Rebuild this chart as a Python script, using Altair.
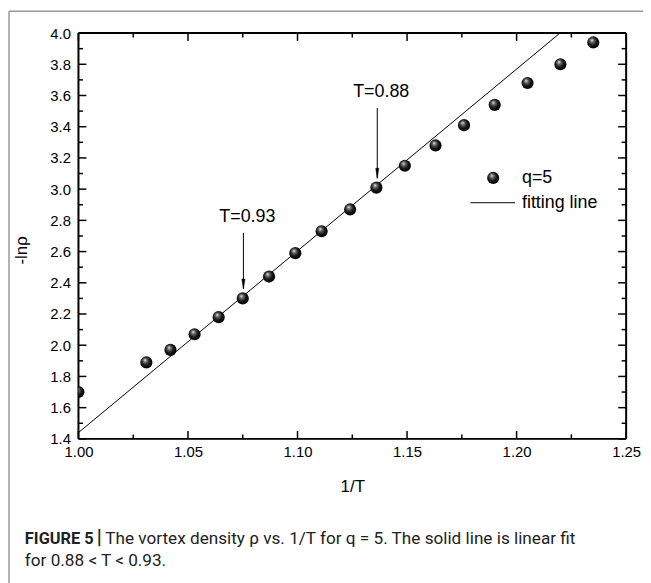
import altair as alt
import pandas as pd

# ---- data ----
inv_T = [1.000, 1.031, 1.042, 1.053, 1.064, 1.075, 1.087, 1.099, 1.111,
         1.124, 1.136, 1.149, 1.163, 1.176, 1.190, 1.205, 1.220, 1.235]
neg_ln_rho = [1.70, 1.89, 1.97, 2.07, 2.18, 2.30, 2.44, 2.59, 2.73,
              2.87, 3.01, 3.15, 3.28, 3.41, 3.54, 3.68, 3.80, 3.94]

fit_x = [1.00, 1.2198]
fit_y = [1.44, 4.00]

ann_x = [1.0753, 1.1364]
ann_label = ["T=0.93", "T=0.88"]
ann_text_y = [2.82, 3.62]
ann_arrow_top = [2.72, 3.52]
ann_arrow_tip = [2.36, 3.07]

x_major = [1.00, 1.05, 1.10, 1.15, 1.20, 1.25]
x_minor = [1.025, 1.075, 1.125, 1.175, 1.225]
y_major = [1.4, 1.6, 1.8, 2.0, 2.2, 2.4, 2.6, 2.8, 3.0, 3.2, 3.4, 3.6, 3.8, 4.0]
y_minor = [1.5, 1.7, 1.9, 2.1, 2.3, 2.5, 2.7, 2.9, 3.1, 3.3, 3.5, 3.7, 3.9]

legend_labels = ["q=5", "fitting line"]
caption_bold = "FIGURE 5"
caption_bar = "|"
caption_line1 = "The vortex density ρ vs. 1/T for q = 5. The solid line is linear fit"
caption_line2 = "for 0.88 < T < 0.93."

W, H = 552, 409
PL, PT = 71, 23
FONT = "Liberation Sans, Arial, sans-serif"

xs = alt.Scale(domain=[1.0, 1.25], nice=False, zero=False)
ys = alt.Scale(domain=[1.4, 4.0], nice=False, zero=False)

AX = alt.Axis(values=x_major, format=".2f", title="1/T", grid=False,
              ticks=False, domain=False, labelPadding=6, labelOverlap=False,
              labelFlush=False,
              labelFontSize=15, labelFont=FONT, labelColor="#000",
              titleFontSize=17, titleFont=FONT, titleFontWeight="normal",
              titleColor="#000", titlePadding=19)
AY = alt.Axis(values=y_major, format=".1f", title=None, grid=False,
              ticks=False, domain=False, labelPadding=8, labelOverlap=False,
              labelFlush=False,
              labelFontSize=15, labelFont=FONT, labelColor="#000")


def X(field):
    return alt.X(field, scale=xs, axis=AX)


def Y(field):
    return alt.Y(field, scale=ys, axis=AY)


pts = pd.DataFrame({"x": inv_T, "y": neg_ln_rho})
fit = pd.DataFrame({"x": fit_x, "y": fit_y})
ann = pd.DataFrame({"x": ann_x, "label": ann_label, "ty": ann_text_y,
                    "top": ann_arrow_top, "tip": ann_arrow_tip})

xmaj = pd.DataFrame({"v": x_major})
xmin = pd.DataFrame({"v": x_minor})
ymaj = pd.DataFrame({"v": y_major})
ymin = pd.DataFrame({"v": y_minor})

one = pd.DataFrame({"a": [0]})

sphere = alt.RadialGradient(
    gradient="radial",
    x1=0.38, y1=0.3, r1=0.0,
    x2=0.45, y2=0.45, r2=0.6,
    stops=[alt.GradientStop(offset=0.0, color="#f4f4f4"),
           alt.GradientStop(offset=0.25, color="#6a6a6a"),
           alt.GradientStop(offset=0.6, color="#151515"),
           alt.GradientStop(offset=1.0, color="#000000")],
)

points = alt.Chart(pts).mark_circle(fill=sphere, opacity=1, size=150, clip=True).encode(
    x=X("x:Q"), y=Y("y:Q"))

fit_line = alt.Chart(fit).mark_line(color="#000", strokeWidth=1, clip=True).encode(
    x=X("x:Q"), y=Y("y:Q"))

# plot box
box_style = dict(color="#000", strokeWidth=2)
box = [
    alt.Chart(one).mark_rule(**box_style).encode(x=alt.value(0), x2=alt.value(W), y=alt.value(0)),
    alt.Chart(one).mark_rule(**box_style).encode(x=alt.value(0), x2=alt.value(W), y=alt.value(H)),
    alt.Chart(one).mark_rule(**box_style).encode(x=alt.value(0), y=alt.value(0), y2=alt.value(H)),
    alt.Chart(one).mark_rule(**box_style).encode(x=alt.value(W), y=alt.value(0), y2=alt.value(H)),
]

# inward ticks
MJ, MN = 8, 4.5
tick_style = dict(color="#000", strokeWidth=1.5)
ticks = [
    alt.Chart(xmaj).mark_rule(**tick_style).encode(x=X("v:Q"), y=alt.value(H), y2=alt.value(H - MJ)),
    alt.Chart(xmin).mark_rule(**tick_style).encode(x=X("v:Q"), y=alt.value(H), y2=alt.value(H - MN)),
    alt.Chart(xmaj).mark_rule(**tick_style).encode(x=X("v:Q"), y=alt.value(0), y2=alt.value(MJ)),
    alt.Chart(xmin).mark_rule(**tick_style).encode(x=X("v:Q"), y=alt.value(0), y2=alt.value(MN)),
    alt.Chart(ymaj).mark_rule(**tick_style).encode(y=Y("v:Q"), x=alt.value(0), x2=alt.value(MJ)),
    alt.Chart(ymin).mark_rule(**tick_style).encode(y=Y("v:Q"), x=alt.value(0), x2=alt.value(MN)),
    alt.Chart(ymaj).mark_rule(**tick_style).encode(y=Y("v:Q"), x=alt.value(W), x2=alt.value(W - MJ)),
    alt.Chart(ymin).mark_rule(**tick_style).encode(y=Y("v:Q"), x=alt.value(W), x2=alt.value(W - MN)),
]

# annotations
arrow_line = alt.Chart(ann).mark_rule(color="#000", strokeWidth=1).encode(
    x=X("x:Q"), y=Y("top:Q"), y2="tip:Q")
arrow_head = alt.Chart(ann).mark_point(
    shape="M0,1 L-0.32,-1 L0.32,-1 Z", filled=True, fill="#000", stroke="#000",
    strokeWidth=0.5, opacity=1, size=100, yOffset=-5).encode(
    x=X("x:Q"), y=Y("tip:Q"))
ann_text = alt.Chart(ann).mark_text(font=FONT, fontSize=18, color="#000", dx=4,
                                    baseline="middle", align="center").encode(
    x=X("x:Q"), y=Y("ty:Q"), text="label:N")

# legend (drawn by hand, as in the figure)
leg_pt = alt.Chart(one).mark_circle(fill=sphere, opacity=1, size=150).encode(
    x=alt.value(418), y=alt.value(146))
leg_line = alt.Chart(one).mark_rule(color="#000", strokeWidth=1).encode(
    x=alt.value(395), x2=alt.value(440), y=alt.value(171))
leg_t1 = alt.Chart(one).mark_text(text=legend_labels[0], font=FONT, fontSize=18, color="#000",
                                  align="left", baseline="middle").encode(
    x=alt.value(447), y=alt.value(146))
leg_t2 = alt.Chart(one).mark_text(text=legend_labels[1], font=FONT, fontSize=18, color="#000",
                                  align="left", baseline="middle").encode(
    x=alt.value(447), y=alt.value(171))

# y title
ytitle = alt.Chart(one).mark_text(text="-lnρ", font=FONT, fontSize=17, color="#000",
                                  angle=270, align="center", baseline="middle").encode(
    x=alt.value(-57), y=alt.value(219))

# outer frame (gray)
frame_left = alt.Chart(one).mark_rule(color="#999", strokeWidth=1.5).encode(
    x=alt.value(-PL + 1), y=alt.value(-PT + 1), y2=alt.value(560))
frame_top = alt.Chart(one).mark_rule(color="#999", strokeWidth=1.5).encode(
    x=alt.value(-PL + 1), x2=alt.value(580), y=alt.value(-PT + 1))

# caption
CAP_FONT = "Roboto, sans-serif"
cap_b = alt.Chart(one).mark_text(text=caption_bold, font=CAP_FONT, fontSize=16.5, fontWeight="bold",
                                 color="#222", align="left", baseline="middle").encode(
    x=alt.value(-54), y=alt.value(510))
cap_bar = alt.Chart(one).mark_text(text=caption_bar, font=CAP_FONT, fontSize=20, fontWeight="bold",
                                   color="#222", align="center", baseline="middle").encode(
    x=alt.value(21), y=alt.value(509))
cap_1 = alt.Chart(one).mark_text(text=caption_line1, font=CAP_FONT, fontSize=17.3,
                                 color="#222", align="left", baseline="middle").encode(
    x=alt.value(27), y=alt.value(510))
cap_2 = alt.Chart(one).mark_text(text=caption_line2, font=CAP_FONT, fontSize=17.3,
                                 color="#222", align="left", baseline="middle").encode(
    x=alt.value(-54), y=alt.value(532))

chart = alt.layer(
    frame_left, frame_top, fit_line, *ticks, *box, points, arrow_line, arrow_head, ann_text,
    leg_pt, leg_line, leg_t1, leg_t2, ytitle, cap_b, cap_bar, cap_1, cap_2
).properties(
    width=W, height=H,
    autosize=alt.AutoSizeParams(type="none"),
    padding={"left": PL, "top": PT, "right": 17, "bottom": 143},
).configure_view(
    stroke=None
).configure(background="white")

chart.save("out.html", embed_options={"renderer": "svg", "actions": False})
